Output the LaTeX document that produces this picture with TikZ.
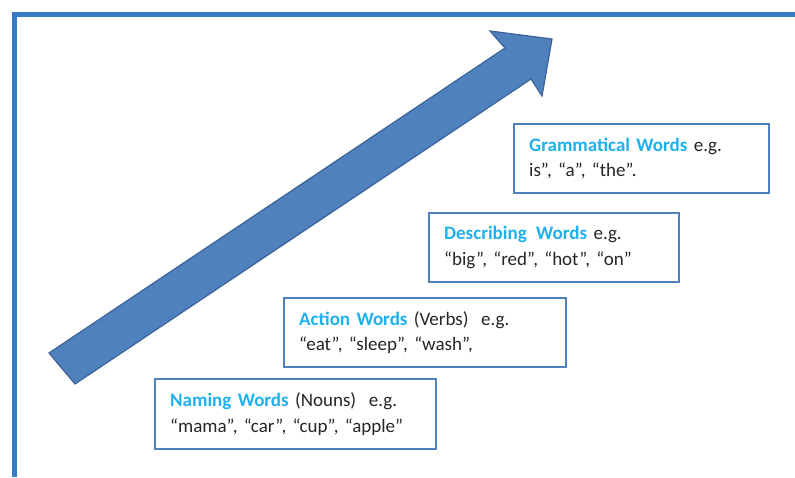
\documentclass[tikz,border=0pt]{standalone}
\usepackage{fontspec}
\setmainfont{Carlito}
\definecolor{framec}{HTML}{3A7BC8}
\definecolor{boxc}{HTML}{4F81BD}
\definecolor{arrowfill}{HTML}{4F81BD}
\definecolor{arrowline}{HTML}{3B639A}
\definecolor{labc}{HTML}{1FB0EE}
\definecolor{txtc}{HTML}{262626}
\begin{document}
\begin{tikzpicture}[x=1pt,y=-1pt,
  wbox/.style={draw=boxc, line width=2.4pt, fill=white, anchor=north west,
    inner xsep=15pt, inner ysep=0pt, align=left, text=txtc,
    font=\fontsize{19}{25.5}\selectfont}]
\useasboundingbox (0,0) rectangle (795,477);
\fill[white] (0,0) rectangle (795,477);
% frame
\coordinate (fl) at (14.5,477);
\coordinate (fc) at (14.5,14.5);
\coordinate (fr) at (795,14.5);
\draw[framec, line width=5pt] (fl) -- (fc) -- (fr);
% arrow
\draw[arrowline, fill=arrowfill, line width=1.2pt, line join=miter]
  (49,353) coordinate (t1) -- (505,48) -- (490,31) -- (552,39) coordinate (tip)
  -- (542,96) -- (531,79) -- (75,384) coordinate (t2) -- cycle;
% boxes
\node[wbox, minimum width=255, minimum height=69, text width=225] (gram) at (513,123)
  {{\color{labc}\bfseries Grammatical Words} e.g.\\ is”, “a”, “the”.};
\node[wbox, minimum width=250, minimum height=69, text width=220] (desc) at (428,212)
  {{\color{labc}\bfseries Describing\ \,Words} e.g.\\ “big”, “red”, “hot”, “on”};
\node[wbox, minimum width=282, minimum height=69, text width=252] (act) at (283,297)
  {{\color{labc}\bfseries Action Words} (Verbs)\ \ e.g.\\ “eat”, “sleep”, “wash”,};
\node[wbox, minimum width=281, minimum height=70, text width=251] (nam) at (154,378)
  {{\color{labc}\bfseries Naming Words} (Nouns)\ \ e.g.\\ “mama”, “car”, “cup”, “apple”};
\end{tikzpicture}
\end{document}
